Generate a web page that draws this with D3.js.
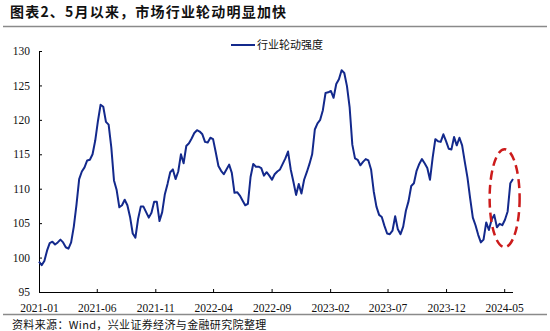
<!DOCTYPE html>
<html>
<head>
<meta charset="utf-8">
<script src="https://cdn.jsdelivr.net/npm/d3@7"></script>
<style>
  html, body { margin: 0; padding: 0; background: #fff; }
  svg { display: block; }
</style>
</head>
<body>
<svg id="chart" width="550" height="331"></svg>
<script>
// Weekly series, first observation on 2021-01-01, one value per week
const startDate = "2021-01-01";
const rotationIndex = [
  99.4, 98.9, 99.5, 101.0, 102.1, 102.3, 101.9, 102.2, 102.6, 102.2,
  101.5, 101.3, 102.2, 104.5, 107.7, 111.4, 112.5, 113.1, 114.1, 114.2,
  115.0, 117.0, 119.8, 122.2, 121.9, 119.7, 119.3, 116.0, 111.2, 109.8,
  107.3, 107.6, 108.4, 107.6, 105.9, 103.5, 102.9, 105.6, 107.4, 107.4,
  106.6, 105.8, 106.5, 108.1, 108.1, 105.3, 106.6, 109.2, 110.7, 112.4,
  112.8, 111.4, 112.5, 115.0, 113.7, 116.2, 116.6, 117.3, 118.1, 118.5,
  118.3, 117.9, 116.8, 116.7, 117.4, 117.2, 115.3, 113.3, 112.6, 112.1,
  112.8, 113.5, 112.3, 109.4, 109.5, 109.0, 108.3, 107.6, 107.8, 111.7,
  113.6, 113.2, 113.2, 113.0, 111.9, 112.4, 111.9, 111.3, 112.1, 112.5,
  112.8, 113.6, 114.4, 115.4, 112.8, 111.0, 109.1, 110.7, 109.3, 111.3,
  112.4, 113.6, 115.0, 118.6, 119.5, 120.0, 121.4, 123.9, 124.0, 124.2,
  123.2, 125.2, 125.9, 127.2, 126.8, 124.9, 121.8, 116.4, 114.4, 114.2,
  113.4, 113.9, 114.3, 114.1, 112.8, 109.6, 107.4, 106.2, 105.9, 104.6,
  103.5, 103.4, 103.9, 106.0, 104.1, 103.4, 104.5, 106.8, 108.2, 110.4,
  110.8, 112.6, 113.6, 114.3, 113.7, 113.0, 111.3, 114.5, 117.2, 116.9,
  116.8, 117.9, 116.9, 115.8, 115.7, 117.5, 116.3, 117.4, 116.3, 113.9,
  111.6, 108.6, 105.8, 104.7, 103.3, 102.2, 102.6, 105.1, 104.0, 105.5,
  106.2, 104.4, 104.9, 104.7, 105.5, 106.7, 110.8, 111.4
];
const xTickLabels = ["2021-01", "2021-06", "2021-11", "2022-04", "2022-09",
                     "2023-02", "2023-07", "2023-12", "2024-05"];
const yTicks = [95, 100, 105, 110, 115, 120, 125, 130];
const seriesName = "行业轮动强度";
const titleText = "图表2、5月以来，市场行业轮动明显加快";
const sourceText = "资料来源：Wind，兴业证券经济与金融研究院整理";

const parseDay = d3.timeParse("%Y-%m-%d");
const parseMonth = d3.timeParse("%Y-%m");
const t0 = parseDay(startDate);
const points = rotationIndex.map((v, i) => ({ date: d3.timeDay.offset(t0, 7 * i), value: v }));

const svg = d3.select("#chart");
const serif = "'Liberation Serif', 'Times New Roman', serif";
const cjk = "'Noto Sans CJK SC', 'Noto Sans', sans-serif";

const plot = { left: 39, right: 513, top: 51, bottom: 292 };

const x = d3.scaleTime()
  .domain([t0, points[points.length - 1].date])
  .range([plot.left, plot.right]);
const y = d3.scaleLinear().domain([95, 130]).range([plot.bottom, plot.top]);

// Title and rules
svg.append("text")
  .attr("x", 10).attr("y", 17)
  .attr("font-family", cjk).attr("font-size", 14).attr("font-weight", 700)
  .attr("letter-spacing", 1.2)
  .attr("fill", "#111")
  .text(titleText);

svg.append("line")
  .attr("x1", 3).attr("x2", 547).attr("y1", 26.5).attr("y2", 26.5)
  .attr("stroke", "#8a8a8a").attr("stroke-width", 1.6);
svg.append("line")
  .attr("x1", 3).attr("x2", 547).attr("y1", 314.5).attr("y2", 314.5)
  .attr("stroke", "#8a8a8a").attr("stroke-width", 1.6);

svg.append("text")
  .attr("x", 12).attr("y", 328.5)
  .attr("font-family", cjk).attr("font-size", 11)
  .attr("letter-spacing", 0.35)
  .attr("fill", "#111")
  .text(sourceText);

// Y axis
const yAxis = d3.axisLeft(y).tickValues(yTicks).tickSize(-3).tickPadding(9)
  .tickFormat(d3.format("d"));
const gy = svg.append("g").attr("transform", `translate(${plot.left},0)`).call(yAxis);
gy.select(".domain").attr("stroke", "#000").attr("d", `M0.5,${plot.top}V${plot.bottom}`);
gy.selectAll(".tick line").attr("stroke", "#000");
gy.selectAll("text").attr("font-family", serif).attr("font-size", 11.5).attr("fill", "#111");

// X axis
const xAxis = d3.axisBottom(x)
  .tickValues(xTickLabels.map(parseMonth))
  .tickSize(-3).tickPadding(12)
  .tickFormat(d3.timeFormat("%Y-%m"));
const gx = svg.append("g").attr("transform", `translate(0,${plot.bottom})`).call(xAxis);
gx.select(".domain").attr("stroke", "#000").attr("d", `M${plot.left},0.5H${plot.right}`);
gx.selectAll(".tick line").attr("stroke", "#000");
gx.selectAll("text").attr("font-family", serif).attr("font-size", 11.5).attr("fill", "#111");

// Series line
const line = d3.line().x(d => x(d.date)).y(d => y(d.value));
svg.append("path")
  .datum(points)
  .attr("fill", "none")
  .attr("stroke", "#13298c")
  .attr("stroke-width", 2)
  .attr("stroke-linejoin", "round")
  .attr("d", line);

// Highlight around the latest weeks
const recent = points.slice(-8);
const ex = d3.extent(recent, d => x(d.date));
const ey = d3.extent(recent, d => y(d.value));
svg.append("ellipse")
  .attr("cx", (ex[0] + ex[1]) / 2 + 1)
  .attr("cy", (ey[0] + ey[1]) / 2 - 5)
  .attr("rx", 15)
  .attr("ry", 49)
  .attr("fill", "none")
  .attr("stroke", "#cc1b1b")
  .attr("stroke-width", 2.5)
  .attr("stroke-dasharray", "9,5");

// Legend
const lg = svg.append("g").attr("transform", "translate(231,45)");
lg.append("line").attr("x1", 0).attr("x2", 24).attr("y1", 0).attr("y2", 0)
  .attr("stroke", "#13298c").attr("stroke-width", 2);
lg.append("text").attr("x", 26).attr("y", 4)
  .attr("font-family", cjk).attr("font-size", 11).attr("fill", "#111")
  .text(seriesName);
</script>
</body>
</html>
